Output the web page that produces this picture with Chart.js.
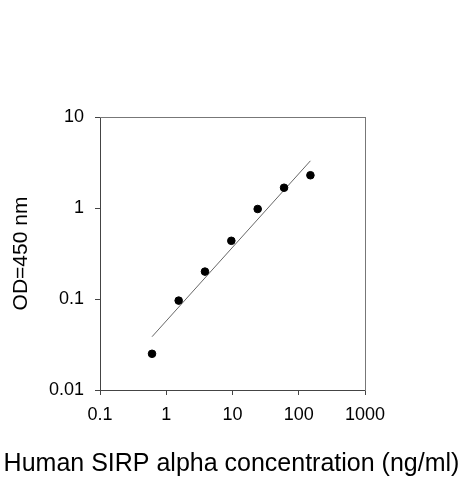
<!DOCTYPE html>
<html>
<head>
<meta charset="utf-8">
<script src="https://cdn.jsdelivr.net/npm/chart.js@4"></script>
<style>
  body { margin: 0; background: #fff; }
  #wrap { width: 463px; height: 480px; }
</style>
</head>
<body>
<div id="wrap"><canvas id="odChart" width="463" height="480"></canvas></div>
<script>
// standard curve values
const concentration = [0.61, 1.54, 3.84, 9.6, 24, 60, 150];
const odValues = [0.025, 0.096, 0.2, 0.436, 0.975, 1.67, 2.29];
// fitted line end points
const fitX = [0.61, 150];
const fitY = [0.0385, 3.3];
const xTicks = [0.1, 1, 10, 100, 1000];
const yTicks = [0.01, 0.1, 1, 10];

const font = "'Liberation Sans', Arial, sans-serif";

// top edge of the box round the plot area
const frame = {
  id: 'frame',
  afterDraw(chart) {
    const { ctx, chartArea: a } = chart;
    ctx.save();
    ctx.strokeStyle = '#777';
    ctx.lineWidth = 1;
    ctx.beginPath();
    ctx.moveTo(a.left, a.top + 0.5);
    ctx.lineTo(a.right + 0.5, a.top + 0.5);
    ctx.stroke();
    ctx.restore();
  }
};

const ctx = document.getElementById("odChart").getContext("2d");
const chart = new Chart(ctx, {
  type: 'scatter',
  data: {
    datasets: [
      {
        label: 'OD',
        data: concentration.map((c, i) => ({ x: c, y: odValues[i] })),
        backgroundColor: '#000',
        borderColor: '#000',
        pointRadius: 3.8,
        pointHoverRadius: 3.8
      },
      {
        label: 'fit',
        type: 'line',
        data: fitX.map((x, i) => ({ x: x, y: fitY[i] })),
        borderColor: '#666',
        borderWidth: 1,
        pointRadius: 0,
        fill: false
      }
    ]
  },
  options: {
    responsive: false,
    animation: false,
    layout: { padding: { top: 117, right: 0, left: 0, bottom: 0 } },
    plugins: {
      legend: { display: false },
      tooltip: { enabled: false },
      title: {
        display: true,
        position: 'bottom',
        text: 'Human SIRP alpha concentration (ng/ml)',
        color: '#000',
        font: { family: font, size: 25, weight: 'normal' },
        padding: { top: 0, bottom: 1 }
      }
    },
    scales: {
      x: {
        type: 'logarithmic',
        min: 0.1,
        max: 1000,
        afterBuildTicks: (s) => { s.ticks = xTicks.map(v => ({ value: v })); },
        afterFit: (s) => { s.height = 59; },
        border: { display: true, color: '#444', width: 1 },
        grid: { drawOnChartArea: false, drawTicks: true, tickLength: 5, color: '#444' },
        ticks: {
          color: '#000',
          font: { family: font, size: 18 },
          padding: 9,
          maxRotation: 0,
          autoSkip: false,
          callback: (v) => String(v)
        }
      },
      y: {
        type: 'logarithmic',
        min: 0.01,
        max: 10,
        afterBuildTicks: (s) => { s.ticks = yTicks.map(v => ({ value: v })); },
        afterFit: (s) => { s.width = 100; },
        border: { display: true, color: '#444', width: 1 },
        grid: { drawOnChartArea: false, drawTicks: true, tickLength: 5, color: '#444' },
        ticks: {
          color: '#000',
          font: { family: font, size: 18 },
          padding: 11,
          autoSkip: false,
          callback: (v) => String(v)
        },
        title: {
          display: true,
          text: 'OD=450 nm',
          color: '#000',
          font: { family: font, size: 21 },
          padding: { top: 9, bottom: 0 }
        }
      },
      // empty right-hand axis: keeps the right margin and draws the right edge
      y2: {
        type: 'logarithmic',
        position: 'right',
        min: 0.01,
        max: 10,
        afterFit: (s) => { s.width = 98; },
        border: { display: true, color: '#777', width: 1 },
        grid: { display: false },
        ticks: { display: false }
      }
    }
  },
  plugins: [frame]
});
</script>
</body>
</html>
